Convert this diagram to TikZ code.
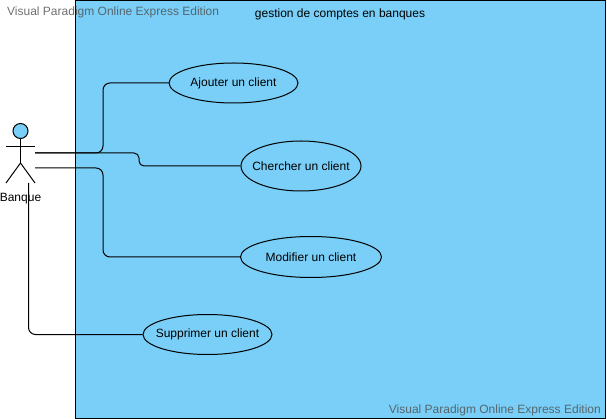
\documentclass[tikz,border=0pt]{standalone}
\usepackage{fontspec}
\setmainfont{Liberation Sans}
\usetikzlibrary{shapes.geometric}
\definecolor{sysblue}{RGB}{121,207,247}
\newcommand{\uctext}[1]{\raisebox{-1.6pt}{\makebox[0pt]{#1}}}
\tikzset{
  usecase/.style={ellipse,draw=black,fill=sysblue,line width=1pt,inner sep=0pt,font=\fontsize{12}{14}\selectfont},
  link/.style={draw=black,line width=1pt,rounded corners=7pt},
  stickman/.style={draw=black,line width=1pt},
  caption/.style={font=\fontsize{12}{14}\selectfont,inner sep=0pt},
  mark text/.style={font=\fontsize{12}{14}\selectfont,inner sep=0pt,text=gray!60!black,text opacity=0.8}
}
\begin{document}
\begin{tikzpicture}[x=1pt,y=-1pt]
\useasboundingbox (0,0) rectangle (607,419);
\node[draw=black,fill=sysblue,line width=1pt,minimum width=530pt,minimum height=417.5pt,inner sep=0pt,anchor=north west] (system) at (75,0.5) {};
\node[caption] (title) at (340,14) {gestion de comptes en banques};
% actor
\node[circle,draw=black,fill=sysblue,line width=1pt,minimum size=15pt,inner sep=0pt] (head) at (20.5,131) {};
\coordinate (hip) at (20.5,163);
\coordinate (armL) at (6,147);
\coordinate (armR) at (35,147);
\coordinate (footL) at (6,183);
\coordinate (footR) at (35,183);
\draw[stickman] (head.south) -- (hip);
\draw[stickman] (armL) -- (armR);
\draw[stickman] (footL) -- (hip) -- (footR);
\node[caption] (banque) at (20.5,199) {Banque};
% use cases
\node[usecase,minimum width=129pt,minimum height=40pt] (ajouter) at (233.5,83) {\uctext{Ajouter un client}};
\node[usecase,minimum width=120pt,minimum height=50pt] (chercher) at (301,166) {\uctext{Chercher un client}};
\node[usecase,minimum width=141pt,minimum height=41pt] (modifier) at (311,257) {\uctext{Modifier un client}};
\node[usecase,minimum width=129pt,minimum height=40pt] (supprimer) at (207.5,334.5) {\uctext{Supprimer un client}};
% connectors
\coordinate (a1) at (35,153);
\coordinate (a2) at (35,168);
\coordinate (a3) at (28.5,183);
\draw[link] (a1) -- (103,153) -- (103,83) -- (ajouter.west);
\draw[link,rounded corners=5pt] (a1) -- (139,153) -- (139,166) -- (chercher.west);
\draw[link] (a2) -- (103,168) -- (103,257) -- (modifier.west);
\draw[link] (a3) -- (28.5,334.5) -- (supprimer.west);
% watermarks
\node[mark text,anchor=west] (wm1) at (7,12) {Visual Paradigm Online Express Edition};
\node[mark text,anchor=east] (wm2) at (601,410) {Visual Paradigm Online Express Edition};
\end{tikzpicture}
\end{document}
